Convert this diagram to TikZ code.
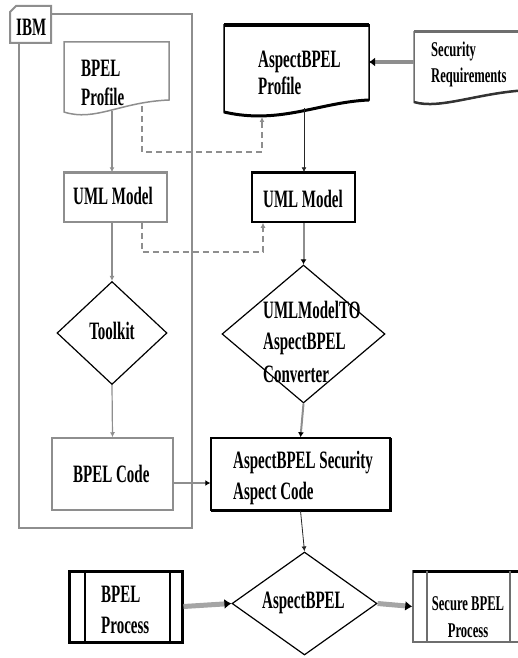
\documentclass[tikz,border=0pt]{standalone}
\usepackage{fontspec}
\setmainfont{Liberation Serif}[FakeStretch=0.6]
\usetikzlibrary{shapes.geometric,arrows.meta}
\definecolor{lg}{HTML}{8E8E8E}
\definecolor{dg}{HTML}{6E6E6E}
\tikzset{
  txt/.style={anchor=base west, inner sep=0, font=\fontsize{25}{30}\selectfont\bfseries},
  txtc/.style={anchor=base, inner sep=0, font=\fontsize{25}{30}\selectfont\bfseries},
  stxt/.style={anchor=base west, inner sep=0, font=\fontsize{21}{25}\selectfont\bfseries},
  stxtc/.style={anchor=base, inner sep=0, font=\fontsize{21}{25}\selectfont\bfseries},
  gbox/.style={draw=lg, line width=1.5, rectangle, inner sep=0},
  bbox/.style={draw=black, line width=1.5, rectangle, inner sep=0},
  dia/.style={draw=black, line width=1.2, diamond, inner sep=0},
  gconn/.style={draw=lg, line width=1.2, -{Latex[length=5,width=5]}},
  bconn/.style={draw=black!85, line width=0.8, -{Latex[length=5,width=5]}},
  mconn/.style={draw=lg, line width=2, -{Latex[length=5,width=6,color=black]}},
  tconn/.style={draw=lg!80, line width=5, -{Latex[length=7,width=10,color=black]}},
  dconn/.style={draw=lg, line width=2, dash pattern=on 6 off 4, -{Latex[length=5,width=5]}},
}
\begin{document}
\begin{tikzpicture}[x=1pt,y=-1pt]
\useasboundingbox (0,0) rectangle (517,658);
% IBM container
\draw[lg, line width=1.5] (51,14) -- (192,14) -- (192,528) -- (19,528) -- (19,43);
\node[inner sep=0, minimum width=41, minimum height=37] (ibm) at (30.5,24.5) {};
\draw[lg, line width=2, fill=white] (10,43) -- (10,12) -- (16,6) -- (51,6) -- (51,43) -- cycle;
\node[txt] (ibmt) at (16,36) {IBM};

% BPEL Profile document
\draw[lg, line width=1.5] (169,100) .. controls (120,102) and (95,122) .. (64,112) -- (64,42) -- (169,42) -- cycle;
\coordinate (bpS) at (112,111);
\coordinate (bpD) at (142,106);
\node[txt] (bp1) at (81,77) {BPEL};
\node[txt] (bp2) at (81,106) {Profile};

% AspectBPEL Profile document
\draw[black, line width=1.5] (369,100) .. controls (320,102) and (280,125) .. (224,112) -- (224,25) -- (369,25) -- cycle;
\draw[black, line width=3.5] (224,25) -- (369,25);
\draw[black, line width=3] (369,100) .. controls (320,102) and (280,125) .. (224,112);
\coordinate (apS) at (304,108);
\coordinate (apD) at (262,117);
\coordinate (apE) at (369,62);
\node[txt] (ap1) at (258,68) {AspectBPEL};
\node[txt] (ap2) at (258,95) {Profile};

% Security requirements document
\draw[dg, line width=1.5] (530,90) .. controls (480,92) and (440,110) .. (414,102) -- (414,32) -- (530,32);
\draw[dg, line width=3] (414,32) -- (530,32);
\draw[black!80, line width=2.5] (530,90) .. controls (480,92) and (440,110) .. (414,102);
\coordinate (srW) at (414,62);
\node[stxt] (sr1) at (431,57) {Security};
\node[stxt] (sr2) at (431,83) {Requirements};

% UML models
\node[gbox, minimum width=103, minimum height=49] (umlL) at (115.5,197.5) {};
\draw[lg, line width=3] (umlL.north west) -- (umlL.north east);
\node[txt] (umlLt) at (73,204) {UML Model};
\node[bbox, minimum width=103, minimum height=49] (umlR) at (303.5,197.5) {};
\draw[black, line width=3] (umlR.north west) -- (umlR.north east);
\node[txt] (umlRt) at (263,207) {UML Model};

% Toolkit
\node[dia, minimum width=110, minimum height=103] (tk) at (112,333) {};
\node[txtc] (tkt) at (112,339) {Toolkit};

% Converter
\node[dia, minimum width=163, minimum height=138] (cv) at (303.5,334) {};
\node[txt] (cv1) at (263,318) {UMLModelTO};
\node[txt] (cv2) at (263,349) {AspectBPEL};
\node[txt] (cv3) at (263,382) {Converter};

% BPEL code
\node[gbox, minimum width=121, minimum height=72] (bc) at (112.5,474) {};
\node[txt] (bct) at (73,482) {BPEL Code};

% Security aspect code
\node[bbox, minimum width=179, minimum height=72] (sa) at (300.5,474) {};
\draw[black, line width=3] (390,438) -- (390,510) -- (211,510);
\node[txt] (sa1) at (233,468) {AspectBPEL Security};
\node[txt] (sa2) at (233,499) {Aspect Code};

% Bottom row
\node[dia, minimum width=145, minimum height=103] (ab) at (304.5,603.5) {};
\node[txt] (abt) at (262,608) {AspectBPEL};
\node[draw=black, line width=3, rectangle, inner sep=0, minimum width=113, minimum height=71] (bp) at (125.5,606.5) {};
\draw[black, line width=2] (85,571) -- (85,642) (170,571) -- (170,642);
\node[txt] (bpp1) at (101,602) {BPEL};
\node[txt] (bpp2) at (101,633) {Process};
\node[draw=dg, line width=1.5, rectangle, inner sep=0, minimum width=109, minimum height=71] (sp) at (467.5,606.5) {};
\draw[black, line width=3] (413,571) -- (522,571);
\draw[dg, line width=1.5] (427,571) -- (427,642) (510,571) -- (510,642);
\node[stxtc] (sp1) at (468,610) {Secure BPEL};
\node[stxtc] (sp2) at (468,637) {Process};

% connectors
\coordinate (dx1) at (142,0);
\coordinate (dx2) at (263,0);
\coordinate (y1) at (0,152);
\coordinate (y2) at (0,252);
\coordinate (y3) at (0,483);
\draw[gconn] (bpS) -- (bpS |- umlL.north);
\draw[dconn] (bpD) -- (bpD |- y1) -- (apD |- y1) -- (apD);
\draw[dconn] (umlL.south -| dx1) -- (dx1 |- y2) -- (dx2 |- y2) -- (umlR.south -| dx2);
\draw[gconn] (umlL.south -| bpS) -- (tk.north);
\draw[gconn] (tk.south) -- (bc.north);
\draw[mconn] (bc.east |- y3) -- (sa.west |- y3);
\draw[draw=lg, line width=4, -{Latex[length=6,width=9,color=black]}] (srW) -- (apE);
\draw[bconn] (apS) -- (apS |- umlR.north);
\draw[mconn] (umlR.south) -- (cv.north);
\draw[mconn] (cv.south) -- (sa.north);
\draw[bconn] (sa.south) -- (ab.north);
\draw[tconn] (bp.east) -- (ab.west);
\draw[tconn] (ab.east) -- (sp.west);
\end{tikzpicture}
\end{document}
